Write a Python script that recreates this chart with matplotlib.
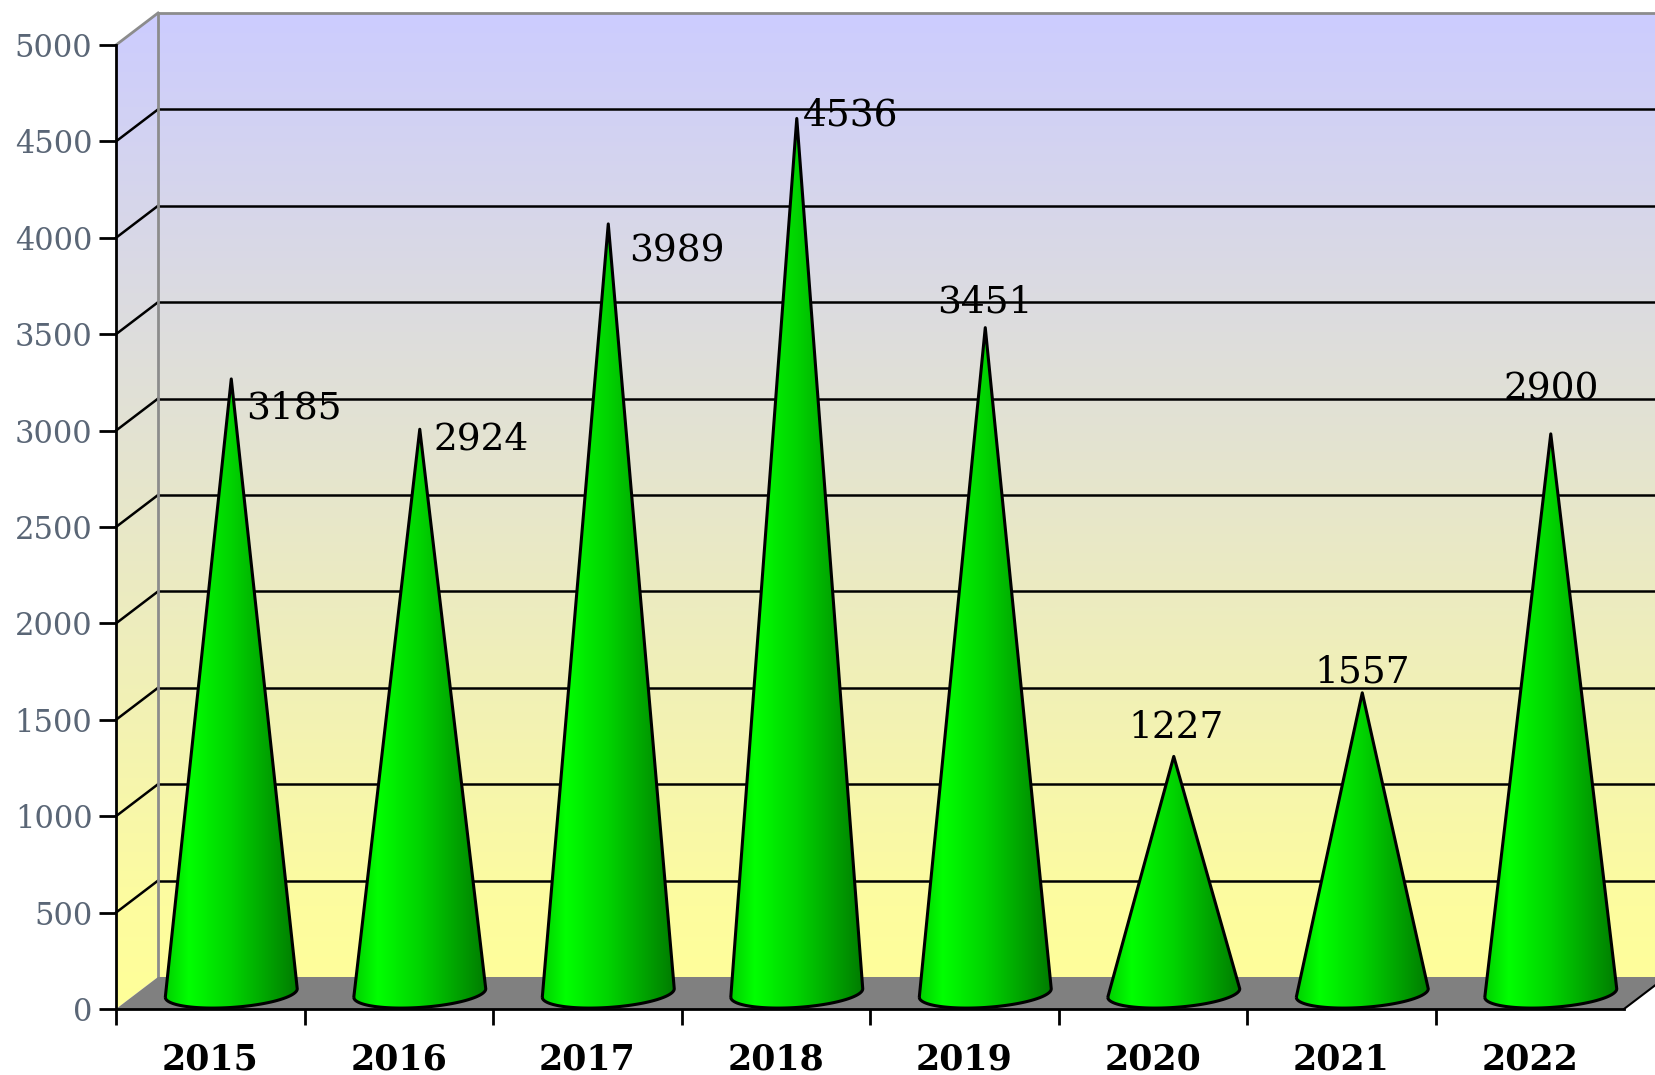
import numpy as np
import matplotlib.pyplot as plt
from matplotlib.colors import LinearSegmentedColormap
from matplotlib.patches import Polygon, PathPatch
from matplotlib.path import Path

years = ['2015', '2016', '2017', '2018', '2019', '2020', '2021', '2022']
values = [3185, 2924, 3989, 4536, 3451, 1227, 1557, 2900]
y_ticks = list(range(0, 5001, 500))

# label placement (pixel offsets from cone tip, alignment)
label_pos = [(15, -30, 'left'), (14, -10, 'left'), (21, -28, 'left'), (6, 3, 'left'),
             (0, 25, 'center'), (2, 28, 'center'), (0, 20, 'center'), (0, 44, 'center')]

DX, DY = 0.223, 166      # depth offset of the 3d box
R, RY, TILT = 0.35, 75, 22   # cone base radius / ellipse half-height / tilt
YMAX = 5000
n = len(years)

fig = plt.figure(figsize=(16.55, 10.75), dpi=100)
ax = fig.add_axes([116 / 1655, 66 / 1075, 1508 / 1655, 964 / 1075])
ax.patch.set_visible(False)

# walls with vertical gradient
wall_cmap = LinearSegmentedColormap.from_list(
    'wall', [(0, '#ffff99'), (0.1, '#fdfc9f'), (1, '#ccccff')])
xr = n + DX
wall = Polygon([(0, 0), (0, YMAX), (DX, YMAX + DY), (xr, YMAX + DY), (xr, DY), (DX, DY)],
               closed=True, transform=ax.transData, facecolor='none', edgecolor='none')
grad = np.linspace(0, 1, 256).reshape(-1, 1)
im = ax.imshow(grad, extent=[0, xr, 0, YMAX + DY], origin='lower', aspect='auto',
               cmap=wall_cmap, zorder=0, interpolation='bicubic')
im.set_clip_path(wall)
im.set_clip_box(fig.bbox)

# gridlines on side and back wall
for v in y_ticks[1:-1]:
    ax.plot([0, DX], [v, v + DY], color='black', lw=1.8, clip_on=False, zorder=1)
    ax.plot([DX, xr], [v + DY, v + DY], color='black', lw=1.8, clip_on=False, zorder=1)
edge = dict(color='#8c8c8c', lw=2, clip_on=False, zorder=1)
ax.plot([DX, DX], [DY, YMAX + DY], **edge)
ax.plot([0, DX], [YMAX, YMAX + DY], **edge)
ax.plot([DX, xr], [YMAX + DY, YMAX + DY], **edge)

# floor
floor = Polygon([(0, 0), (n, 0), (n + DX, DY), (DX, DY)], closed=True,
                facecolor='#808080', edgecolor='none', clip_on=False, zorder=2)
ax.add_patch(floor)
ax.plot([n, n + DX], [0, DY], color='black', lw=1.5, clip_on=False, zorder=2)

# cones
cone_cmap = LinearSegmentedColormap.from_list(
    'cone', [(0, '#00d000'), (0.18, '#00ff00'), (0.5, '#00d400'), (1.0, '#007c00')])
hgrad = np.linspace(0, 1, 256).reshape(1, -1)
base = DY / 2
t = np.linspace(0, -np.pi, 80)
for i, v in enumerate(values):
    cx = i + 0.5 + DX / 2
    top = v + base
    ell = [(cx + R * np.cos(a), base + RY * np.sin(a) + TILT * np.cos(a)) for a in t]
    pts = [ell[-1], (cx, top)] + ell
    path = Path(pts)
    clip = PathPatch(path, transform=ax.transData, facecolor='none', edgecolor='none')
    cim = ax.imshow(hgrad, extent=[cx - R, cx + R, base - RY - TILT, top], aspect='auto',
                    cmap=cone_cmap, zorder=3, interpolation='bilinear')
    cim.set_clip_path(clip)
    ax.add_patch(PathPatch(path, facecolor='none', edgecolor='black', lw=2.2,
                           joinstyle='round', zorder=4))
    dx, dy, ha = label_pos[i]
    ax.annotate(str(v), xy=(cx, top), xytext=(dx, dy), textcoords='offset pixels',
                ha=ha, va='center', fontsize=27, family='DejaVu Serif',
                color='black', zorder=5, annotation_clip=False)

ax.set_xlim(0, n)
ax.set_ylim(0, YMAX)

for s in ['top', 'right']:
    ax.spines[s].set_visible(False)
ax.spines['left'].set_linewidth(2)
ax.spines['bottom'].set_linewidth(2)
ax.spines['left'].set_zorder(6)
ax.spines['bottom'].set_zorder(6)

ax.set_yticks(y_ticks)
ax.set_yticklabels([str(v) for v in y_ticks], family='DejaVu Serif', fontsize=22,
                   color='#5a6676')
ax.tick_params(axis='y', length=12, width=2, pad=5)

ax.set_xticks(range(n))
ax.set_xticklabels([''] * n)
ax.tick_params(axis='x', which='major', length=11.5, width=2)
ax.set_xticks(np.arange(n) + 0.5, minor=True)
ax.set_xticklabels(years, minor=True, family='DejaVu Serif', fontsize=25,
                   fontweight='bold')
ax.tick_params(axis='x', which='minor', length=0, pad=24)

fig.savefig('out.png', dpi=100)
